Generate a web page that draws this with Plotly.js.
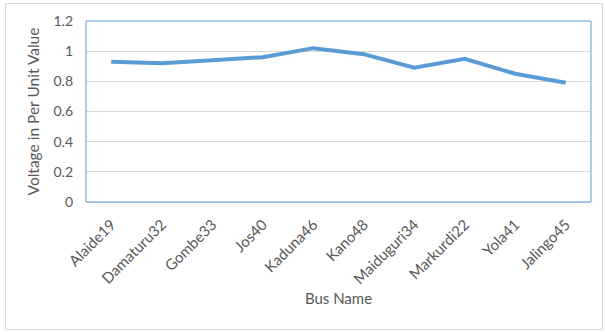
<!DOCTYPE html>
<html>
<head>
<meta charset="utf-8">
<script src="https://cdn.plot.ly/plotly-3.0.1.min.js"></script>
<style>
  html, body { margin: 0; padding: 0; background: #fff; }
  #frame { position: absolute; left: 5px; top: 3px; width: 596px; height: 325px; border: 1px solid #D9D9D9; }
  #chart { position: absolute; left: 0; top: 0; width: 605px; height: 332px; }
</style>
</head>
<body>
<div id="frame"></div>
<div id="chart"></div>
<script>
// Per-unit bus voltages
const busNames = ["Alaide19", "Damaturu32", "Gombe33", "Jos40", "Kaduna46",
                  "Kano48", "Maiduguri34", "Markurdi22", "Yola41", "Jalingo45"];
const voltagePU = [0.93, 0.92, 0.94, 0.96, 1.02, 0.98, 0.89, 0.95, 0.85, 0.79];
const yTickVals = [0, 0.2, 0.4, 0.6, 0.8, 1, 1.2];
const yTickText = ["0", "0.2", "0.4", "0.6", "0.8", "1", "1.2"];

const textColor = "#595959";
const fontFamily = "Lato, 'Open Sans', sans-serif";

const trace = {
  type: "scatter",
  mode: "lines",
  x: busNames,
  y: voltagePU,
  line: { color: "#5B9BD5", width: 4 },
  hoverinfo: "x+y"
};

const layout = {
  width: 605,
  height: 332,
  margin: { l: 86, r: 14, t: 21, b: 130 },
  paper_bgcolor: "rgba(0,0,0,0)",
  plot_bgcolor: "#fff",
  showlegend: false,
  font: { family: fontFamily, size: 13, color: textColor },
  xaxis: {
    type: "category",
    range: [-0.5, busNames.length - 0.5],
    tickangle: -45,
    showgrid: false,
    showline: true,
    linecolor: "#D9D9D9",
    linewidth: 1,
    ticks: "",
    ticklabelstandoff: 7,
    tickfont: { family: fontFamily, size: 15, color: textColor },
    title: { text: "Bus Name", font: { family: fontFamily, size: 15, color: textColor }, standoff: 7 },
    automargin: false
  },
  yaxis: {
    range: [0, 1.2],
    tickvals: yTickVals,
    ticktext: yTickText,
    showgrid: true,
    gridcolor: "#D9D9D9",
    gridwidth: 1,
    zeroline: false,
    showline: false,
    ticks: "",
    ticklabelstandoff: 12,
    tickfont: { family: fontFamily, size: 14, color: textColor },
    title: { text: "Voltage in Per Unit Value", font: { family: fontFamily, size: 15.5, color: textColor }, standoff: 10 },
    automargin: false
  },
  shapes: [
    // plot-area outline
    { type: "rect", xref: "paper", yref: "paper", x0: 0, x1: 1, y0: 0, y1: 1,
      line: { color: "#5B9BD5", width: 1 }, fillcolor: "rgba(0,0,0,0)", layer: "above" }
  ]
};

Plotly.newPlot("chart", [trace], layout, { displayModeBar: false, staticPlot: true });
</script>
</body>
</html>
